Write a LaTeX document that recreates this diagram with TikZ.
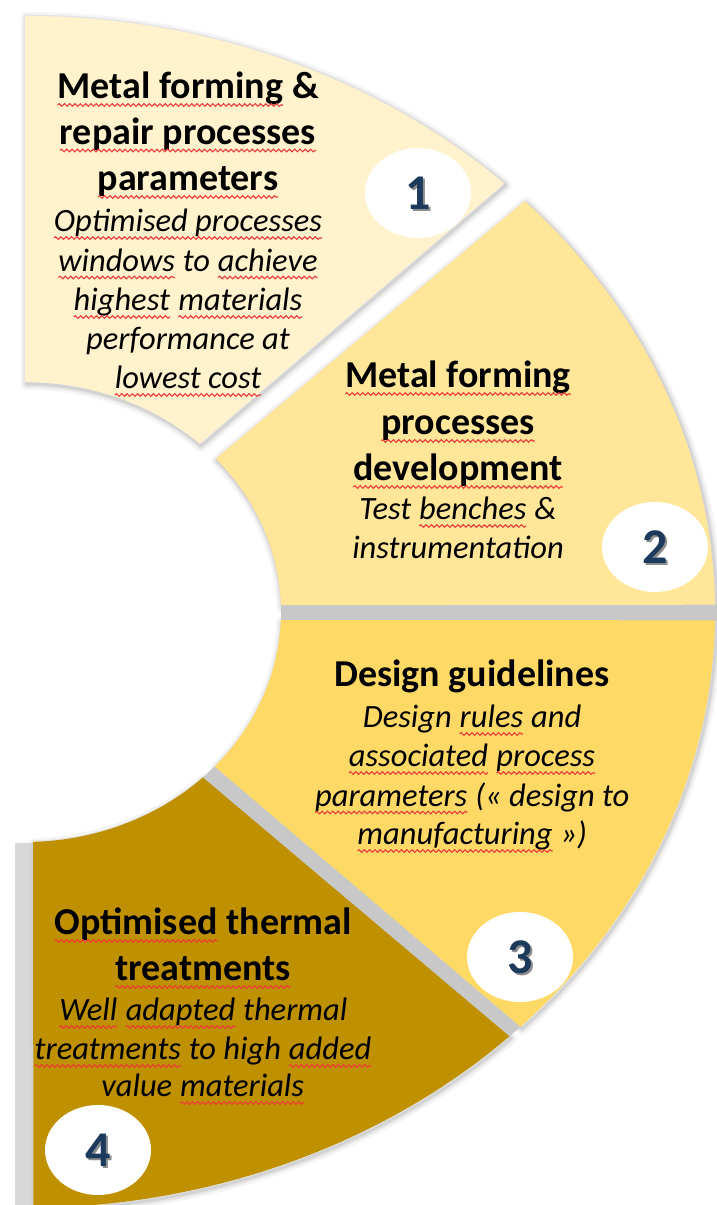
\documentclass[tikz,border=0pt]{standalone}
\usepackage{fontspec}
\setmainfont{Carlito}
\usetikzlibrary{shapes.geometric,decorations.pathmorphing}
\definecolor{segA}{HTML}{FFF2CC}
\definecolor{segB}{HTML}{FFE699}
\definecolor{segC}{HTML}{FFD966}
\definecolor{segD}{HTML}{BF9000}
\definecolor{navy}{HTML}{1B3A5C}
\definecolor{squig}{HTML}{EE3B3B}
\definecolor{gapgray}{HTML}{C8C8C8}
\newcommand\sq[1]{\tikz[baseline=(sqw.base)]{\node[inner sep=0pt,outer sep=0pt,anchor=base] (sqw) {#1};\draw[squig, line width=1.1pt, decorate, decoration={snake, amplitude=1.3pt, segment length=5.3pt}] ([yshift=-6pt]sqw.base west) -- ([yshift=-6pt]sqw.base east);}}
\newcommand\segOne{(25,1189) arc[start angle=90,end angle=46,x radius=690,y radius=596] -- ({25+256*cos(47)},{593+230*sin(47)}) arc[start angle=47,end angle=90,x radius=256,y radius=230] -- cycle}
\newcommand\segTwo{({25+690*cos(43.6)},{593+596*sin(43.6)}) arc[start angle=43.6,end angle=0.7,x radius=690,y radius=596] -- ({25+256*cos(1.7)},{593+230*sin(1.7)}) arc[start angle=1.7,end angle=41.8,x radius=256,y radius=230] -- cycle}
\newcommand\segThree{({25+690*cos(-0.8)},{593+596*sin(-0.8)}) arc[start angle=-0.8,end angle=-44.1,x radius=690,y radius=596] -- ({25+256*cos(-42.2)},{593+230*sin(-42.2)}) arc[start angle=-42.2,end angle=-2,x radius=256,y radius=230] -- cycle}
\newcommand\segFour{({25+690*cos(-45.4)},{593+596*sin(-45.4)}) arc[start angle=-45.4,end angle=-89.3,x radius=690,y radius=596] -- ({25+256*cos(-88.2)},{593+230*sin(-88.2)}) arc[start angle=-88.2,end angle=-46,x radius=256,y radius=230] -- cycle}
\tikzset{
  shade1/.style={line width=12pt, draw=black, opacity=0.04, line join=round},
  shade2/.style={line width=7pt, draw=black, opacity=0.06, line join=round},
  shade3/.style={line width=3pt, draw=black, opacity=0.08, line join=round},
  gap/.style={fill=gapgray},
  title/.style={font=\fontsize{38}{46}\selectfont\bfseries, anchor=base, inner sep=0pt},
  desc/.style={font=\fontsize{32.5}{39}\selectfont\itshape, anchor=base, inner sep=0pt},
  numbox/.style={ellipse, fill=white, minimum width=106pt, minimum height=90pt, inner sep=0pt},
  numtxt/.style={font=\fontsize{50}{50}\selectfont\bfseries, text=navy, inner sep=0pt},
  numshadow/.style={font=\fontsize{50}{50}\selectfont\bfseries, text=black!45, inner sep=0pt}
}
\begin{document}
\begin{tikzpicture}[x=1pt,y=1pt]
\useasboundingbox (0,0) rectangle (717,1205);
\clip (0,0) rectangle (717,1205);
\fill[white] (0,0) rectangle (717,1205);
% shadows
\foreach \s in {shade1,shade2,shade3}{
  \draw[\s, shift={(1.5,-2)}] \segOne;
  \draw[\s, shift={(1.5,-2)}] \segTwo;
  \draw[\s, shift={(1.5,-2)}] \segThree;
  \draw[\s, shift={(1.5,-2)}] \segFour;
}
% grey gaps
\path[gap] (281,584) rectangle (717,601);
\path[gap] ({25+690*cos(-44.1)},{593+596*sin(-44.1)}) -- ({25+690*cos(-45.4)},{593+596*sin(-45.4)}) -- ({25+256*cos(-46)},{593+230*sin(-46)}) -- ({25+256*cos(-42.2)},{593+230*sin(-42.2)}) -- cycle;
\path[gap, fill opacity=0.7] (15,0) rectangle (33,362);
% segments
\fill[segA] \segOne;
\fill[segB] \segTwo;
\fill[segC] \segThree;
\fill[segD] \segFour;
% segment 1
\node[title] (t1a) at (188,1106) {\sq{Metal forming} \&};
\node[title] (t1b) at (188,1060.5) {\sq{repair processes}};
\node[title] (t1c) at (188,1014) {\sq{parameters}};
\node[desc] (d1a) at (188,973) {\sq{Optimised processes}};
\node[desc] (d1b) at (188,933.5) {\sq{windows} to \sq{achieve}};
\node[desc] (d1c) at (188,894) {\sq{highest} \sq{materials}};
\node[desc] (d1d) at (188,855) {performance at};
\node[desc] (d1e) at (188,816) {\sq{lowest cost}};
% segment 2
\node[title] (t2a) at (458,817) {\sq{Metal forming}};
\node[title] (t2b) at (458,770) {\sq{processes}};
\node[title] (t2c) at (458,724) {\sq{development}};
\node[desc] (d2a) at (458,685) {Test \sq{benches} \&};
\node[desc] (d2b) at (458,646.5) {instrumentation};
% segment 3
\node[title] (t3a) at (472,518) {Design guidelines};
\node[desc] (d3a) at (472,477) {Design \sq{rules} and};
\node[desc] (d3b) at (472,438) {\sq{associated} \sq{process}};
\node[desc] (d3c) at (472,398.5) {\sq{parameters} (« design to};
\node[desc] (d3d) at (472,360) {\sq{manufacturing} »)};
% segment 4
\node[title] (t4a) at (203,270) {\sq{Optimised} thermal};
\node[title] (t4b) at (203,224) {\sq{treatments}};
\node[desc] (d4a) at (203,184) {\sq{Well} \sq{adapted} thermal};
\node[desc] (d4b) at (203,145) {\sq{treatments} to high \sq{added}};
\node[desc] (d4c) at (203,108) {value \sq{materials}};
% numbers
\node[numbox] (n1) at (418,1012) {};
\node[numshadow] (n1s) at ([shift={(2,-2)}]n1.center) {1};
\node[numtxt] (n1t) at (n1.center) {1};
\node[numbox] (n2) at (655,658) {};
\node[numshadow] (n2s) at ([shift={(2,-2)}]n2.center) {2};
\node[numtxt] (n2t) at (n2.center) {2};
\node[numbox] (n3) at (520,248) {};
\node[numshadow] (n3s) at ([shift={(2,-2)}]n3.center) {3};
\node[numtxt] (n3t) at (n3.center) {3};
\node[numbox] (n4) at (98,55) {};
\node[numshadow] (n4s) at ([shift={(2,-2)}]n4.center) {4};
\node[numtxt] (n4t) at (n4.center) {4};
\end{tikzpicture}
\end{document}
